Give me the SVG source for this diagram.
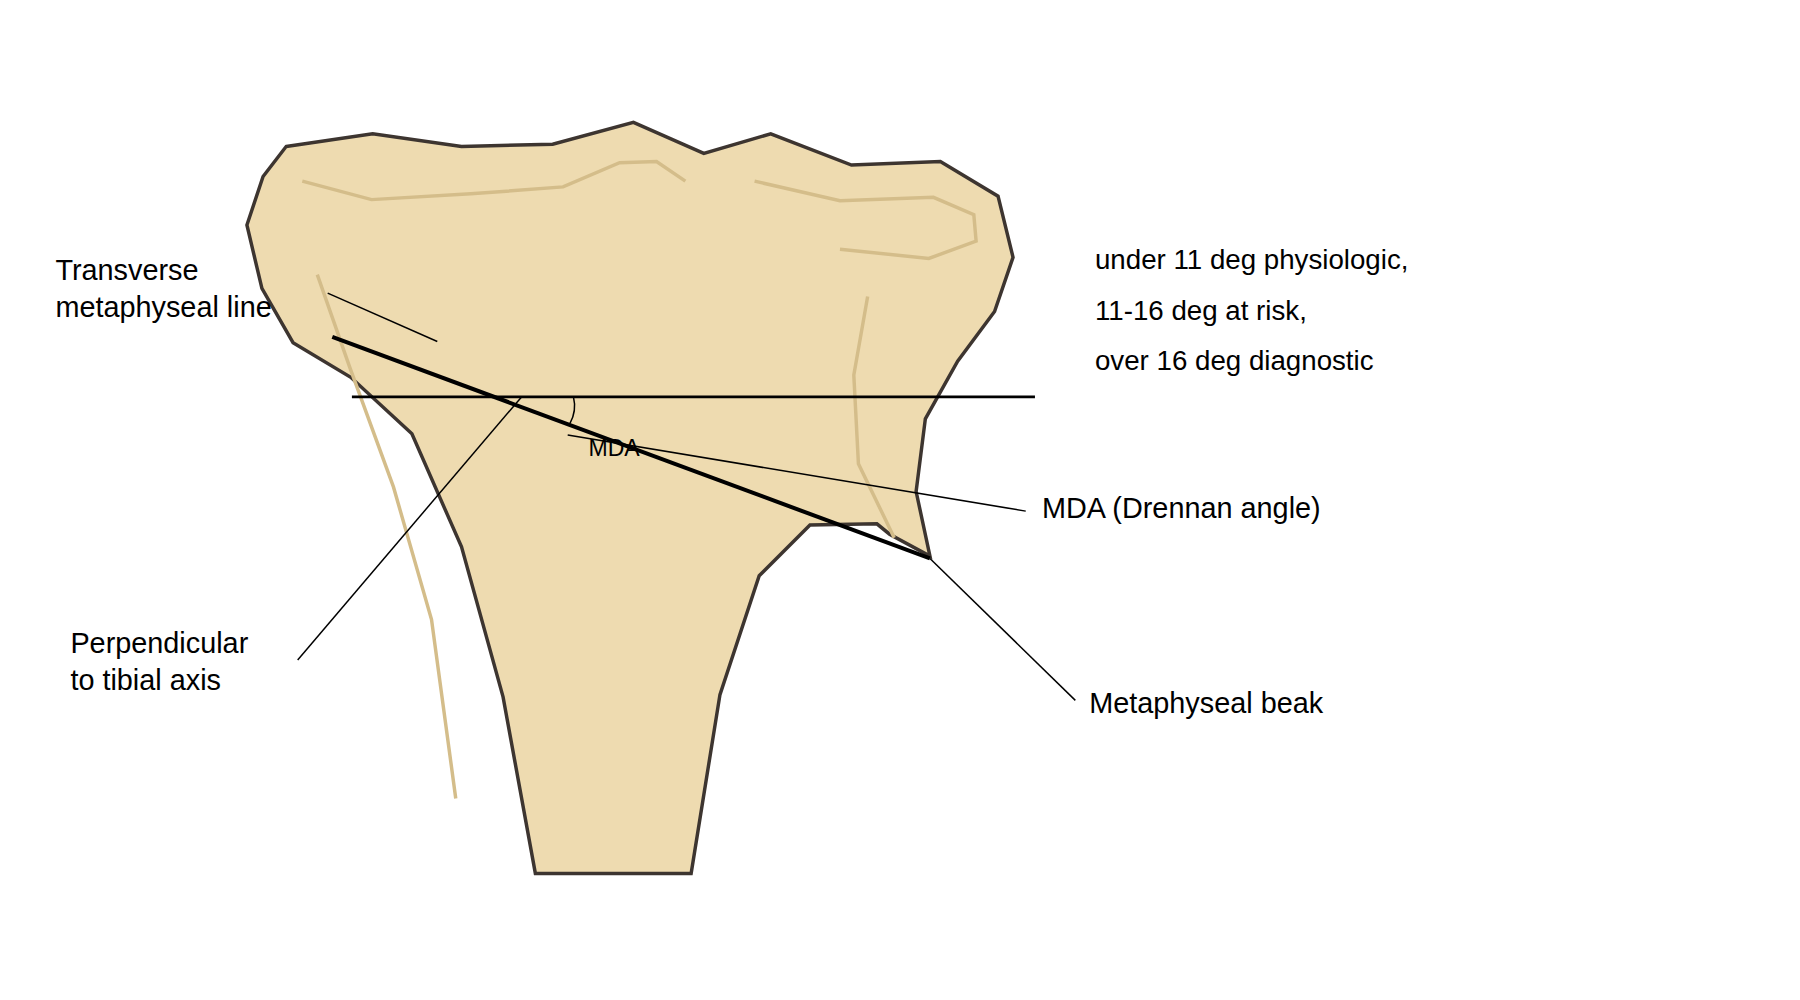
<svg xmlns="http://www.w3.org/2000/svg" width="1800" height="1000" viewBox="0 0 1800 1000">
<style>
.t{font-family:"Liberation Sans",Arial,sans-serif;fill:#000}
.tan{fill:none;stroke:#d4bd8a;stroke-width:3}
.ld{stroke:#000;stroke-width:1.3;fill:none}
</style>
<rect width="1800" height="1000" fill="#fff"/>
<g transform="scale(1.1538)">
<g id="bone">
<polygon points="248,127 323,116 400,127 479,125 549,106 610,133 668,116 738,143 815,140 865,170 878,223 862,270 830,313 802,363 794,426 806,482 771,463 760,454 702,455 658,499 624,602 599,757 464,757 436,604 400,474 357,376 304,327 254,297 227,250 214,195 228,153" fill="#eedbb0" stroke="#3d3530" stroke-width="3"/>
<polyline class="tan" points="262,157 322,173 408,168 488,162 537,141 569,140 594,157"/>
<polyline class="tan" points="654,157 728,174 809,171 844,186 846,209 805,224 728,216"/>
<polyline class="tan" points="275,238 303,318 341,422 374,537 395,692"/>
<polyline class="tan" points="752,257 740,325 744,402 775,466"/>
</g>
<g id="connectors">
<line x1="305" y1="344" x2="897" y2="344" stroke="#000" stroke-width="2.5"/>
<line x1="288" y1="292" x2="806" y2="484" stroke="#000" stroke-width="3.5"/>
<path d="M497,344 Q500,356 494,367" class="ld" stroke-width="2"/>
<line class="ld" x1="284" y1="254" x2="379" y2="296"/>
<line class="ld" x1="258" y1="572" x2="452" y2="344"/>
<line class="ld" x1="492" y1="377" x2="889" y2="443"/>
<line class="ld" x1="806" y1="484" x2="932" y2="607"/>
</g>
<g id="labels">
<text class="t" x="48" y="243" font-size="25">Transverse</text>
<text class="t" x="48" y="275" font-size="25">metaphyseal line</text>
<text class="t" x="510" y="395" font-size="20">MDA</text>
<text class="t" x="949" y="233" font-size="24">under 11 deg physiologic,</text>
<text class="t" x="949" y="277" font-size="24">11-16 deg at risk,</text>
<text class="t" x="949" y="321" font-size="24">over 16 deg diagnostic</text>
<text class="t" x="903" y="449" font-size="25">MDA (Drennan angle)</text>
<text class="t" x="61" y="566" font-size="25">Perpendicular</text>
<text class="t" x="61" y="598" font-size="25">to tibial axis</text>
<text class="t" x="944" y="618" font-size="25">Metaphyseal beak</text>
</g>
</g>
</svg>
